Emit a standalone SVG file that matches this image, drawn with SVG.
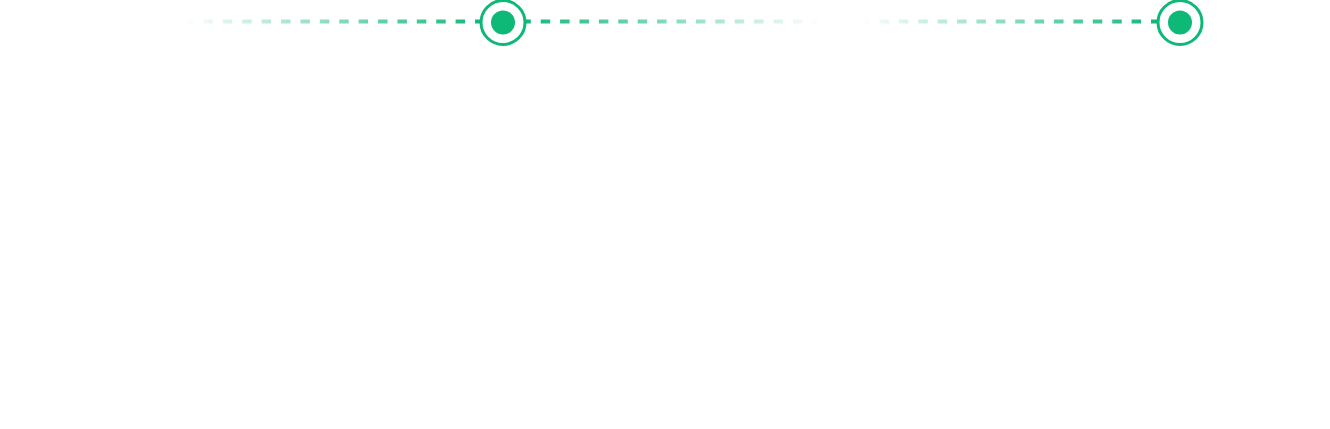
<svg xmlns="http://www.w3.org/2000/svg" width="1330" height="429" viewBox="0 0 1330 429">
  <style>
    .dash { fill: none; stroke-width: 4; stroke-dasharray: 9.5 9.9; }
    .ring { fill: #ffffff; stroke: #0EB877; stroke-width: 3; }
    .dot { fill: #0EB877; }
  </style>
  <defs>
    <linearGradient id="fadeIn1" gradientUnits="userSpaceOnUse" x1="184" y1="0" x2="484" y2="0">
      <stop offset="0" stop-color="#0EB877" stop-opacity="0"/>
      <stop offset="1" stop-color="#0EB877" stop-opacity="1"/>
    </linearGradient>
    <linearGradient id="fadeOut1" gradientUnits="userSpaceOnUse" x1="521.3" y1="0" x2="821.3" y2="0">
      <stop offset="0" stop-color="#0EB877" stop-opacity="1"/>
      <stop offset="1" stop-color="#0EB877" stop-opacity="0"/>
    </linearGradient>
    <linearGradient id="fadeIn2" gradientUnits="userSpaceOnUse" x1="860" y1="0" x2="1160" y2="0">
      <stop offset="0" stop-color="#0EB877" stop-opacity="0"/>
      <stop offset="1" stop-color="#0EB877" stop-opacity="1"/>
    </linearGradient>
  </defs>
  <rect width="1330" height="429" fill="#ffffff"/>
  <g id="connectors">
    <line class="dash" x1="184" y1="21.5" x2="484" y2="21.5" stroke="url(#fadeIn1)"/>
    <line class="dash" x1="521.3" y1="21.5" x2="821.3" y2="21.5" stroke="url(#fadeOut1)"/>
    <line class="dash" x1="860" y1="21.5" x2="1160" y2="21.5" stroke="url(#fadeIn2)"/>
  </g>
  <g id="node-1">
    <circle class="ring" cx="503" cy="22.5" r="22"/>
    <circle class="dot" cx="503" cy="22.5" r="12"/>
  </g>
  <g id="node-2">
    <circle class="ring" cx="1180" cy="22.5" r="22"/>
    <circle class="dot" cx="1180" cy="22.5" r="12"/>
  </g>
</svg>
